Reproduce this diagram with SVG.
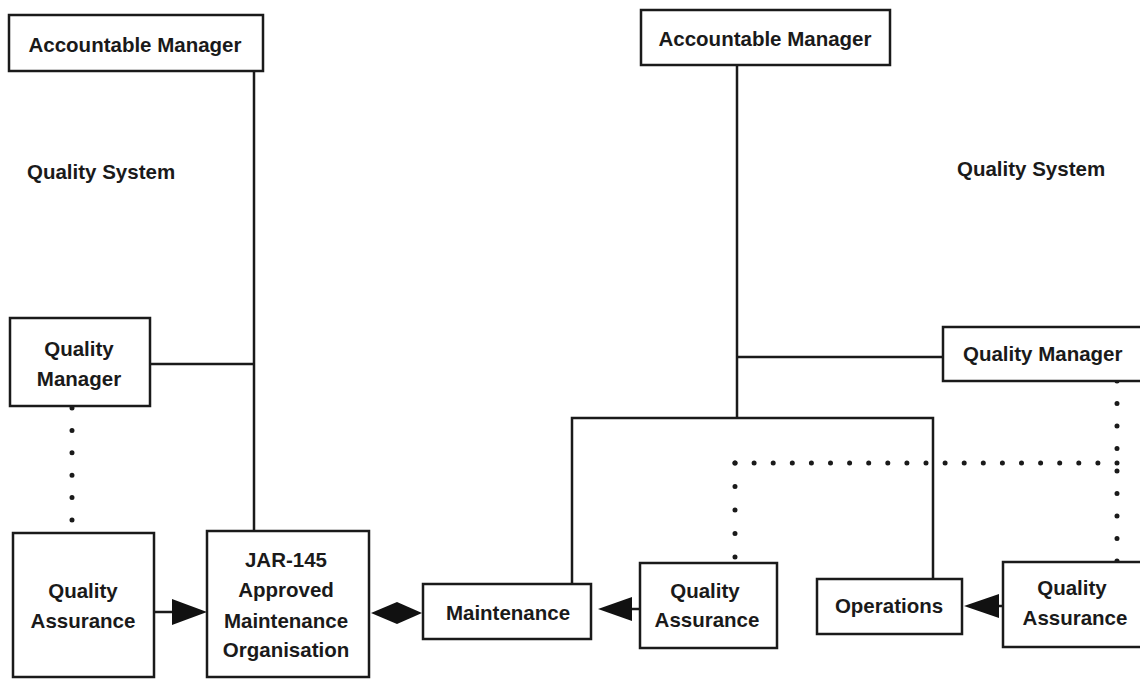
<svg xmlns="http://www.w3.org/2000/svg" width="1140" height="679" viewBox="0 0 1140 679">
<style>
.box{fill:#fff;stroke:#1a1a1a;stroke-width:2.5}
.t{font-family:"Liberation Sans",Arial,sans-serif;font-weight:bold;font-size:20.5px;fill:#1a1a1a;text-anchor:middle}
.tl{font-family:"Liberation Sans",Arial,sans-serif;font-weight:bold;font-size:20.5px;fill:#1a1a1a}
.ln{stroke:#1a1a1a;stroke-width:2.5;fill:none}
.dot{stroke:#1a1a1a;stroke-width:5;fill:none;stroke-linecap:round}
.ah{fill:#111}
</style>
<rect width="1140" height="679" fill="#fff"/>
<g id="connectors">
  <!-- left -->
  <line class="ln" x1="254" y1="71" x2="254" y2="532"/>
  <line class="ln" x1="150" y1="364" x2="254" y2="364"/>
  <line class="dot" x1="72" y1="408" x2="72" y2="521" stroke-dasharray="0 22.4"/>
  <line class="ln" x1="154" y1="612" x2="180" y2="612"/>
  <polygon class="ah" points="207,612 172,599 172,625"/>
  <polygon class="ah" points="371,613 397,602 422,613 397,624"/>
  <!-- right -->
  <line class="ln" x1="737" y1="65" x2="737" y2="418"/>
  <line class="ln" x1="737" y1="357" x2="943" y2="357"/>
  <polyline class="ln" points="572,584 572,418 933,418 933,579"/>
  <line class="dot" x1="1117" y1="381" x2="1117" y2="562" stroke-dasharray="0 22.5"/>
  <line class="dot" x1="735" y1="463" x2="1118" y2="463" stroke-dasharray="0 19.1"/>
  <line class="dot" x1="735" y1="463" x2="735" y2="558" stroke-dasharray="0 23.5"/>
  <line class="ln" x1="625" y1="609" x2="640" y2="609"/>
  <polygon class="ah" points="598,609 632,597 632,621"/>
  <line class="ln" x1="990" y1="606" x2="1003" y2="606"/>
  <polygon class="ah" points="964,606 999,594 999,618"/>
</g>
<g id="am-left">
  <rect class="box" x="9" y="15" width="254" height="56"/>
  <text class="t" x="135" y="52">Accountable Manager</text>
</g>
<g id="qs-left">
  <text class="tl" x="27" y="179">Quality System</text>
</g>
<g id="qm-left">
  <rect class="box" x="10" y="318" width="140" height="88"/>
  <text class="t" x="79" y="356">Quality</text>
  <text class="t" x="79" y="386">Manager</text>
</g>
<g id="qa-left">
  <rect class="box" x="13" y="533" width="141" height="144"/>
  <text class="t" x="83" y="598">Quality</text>
  <text class="t" x="83" y="628">Assurance</text>
</g>
<g id="jar145">
  <rect class="box" x="207" y="531" width="162" height="146"/>
  <text class="t" x="286" y="567">JAR-145</text>
  <text class="t" x="286" y="597">Approved</text>
  <text class="t" x="286" y="628">Maintenance</text>
  <text class="t" x="286" y="657">Organisation</text>
</g>
<g id="maintenance">
  <rect class="box" x="423" y="584" width="168" height="55"/>
  <text class="t" x="508" y="620">Maintenance</text>
</g>
<g id="am-right">
  <rect class="box" x="641" y="10" width="249" height="55"/>
  <text class="t" x="765" y="46">Accountable Manager</text>
</g>
<g id="qs-right">
  <text class="tl" x="957" y="176">Quality System</text>
</g>
<g id="qm-right">
  <rect class="box" x="943" y="327" width="210" height="54"/>
  <text class="tl" x="963" y="361">Quality Manager</text>
</g>
<g id="qa-middle">
  <rect class="box" x="640" y="563" width="137" height="85"/>
  <text class="t" x="705" y="598">Quality</text>
  <text class="t" x="707" y="627">Assurance</text>
</g>
<g id="operations">
  <rect class="box" x="817" y="579" width="145" height="55"/>
  <text class="t" x="889" y="613">Operations</text>
</g>
<g id="qa-right">
  <rect class="box" x="1003" y="562" width="150" height="85"/>
  <text class="t" x="1072" y="595">Quality</text>
  <text class="t" x="1075" y="625">Assurance</text>
</g>
</svg>
